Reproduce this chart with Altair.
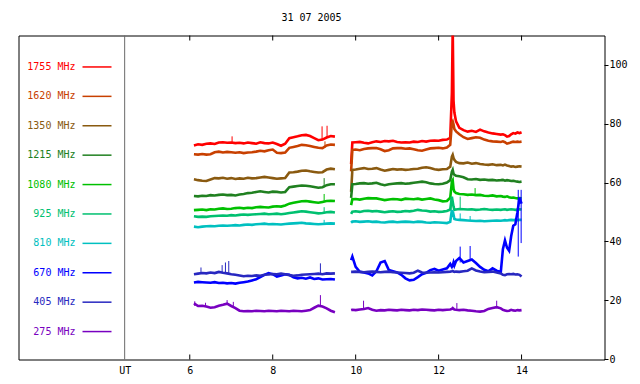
import altair as alt
import pandas as pd

TITLE = "31 07 2005"
MONO = "DejaVu Sans Mono"

freqs = ["1755 MHz", "1620 MHz", "1350 MHz", "1215 MHz", "1080 MHz",
         "925 MHz", "810 MHz", "670 MHz", "405 MHz", "275 MHz"]
colors = ["#ff0000", "#c84000", "#8a5a10", "#208020", "#00c000",
          "#00c070", "#00c0c0", "#0000ff", "#2828c0", "#7800c0"]
widths = [2.6, 2.6, 2.6, 2.6, 2.6, 2.3, 2.0, 2.8, 1.8, 2.3]

# time (UT hours) of the two observing segments
times1 = [6.1, 6.2, 6.3, 6.4, 6.5, 6.6, 6.7, 6.8, 6.9, 7.0,
          7.1, 7.2, 7.3, 7.4, 7.5, 7.6, 7.7, 7.8, 7.9, 8.0,
          8.1, 8.2, 8.3, 8.4, 8.5, 8.6, 8.7, 8.8, 8.9, 9.0,
          9.1, 9.2, 9.3, 9.4, 9.5]
times2 = [9.89, 9.92,
          10.0, 10.1, 10.2, 10.3, 10.4, 10.5, 10.6, 10.7, 10.8, 10.9,
          11.0, 11.1, 11.2, 11.3, 11.4, 11.5, 11.6, 11.7, 11.8, 11.9,
          12.0, 12.1, 12.2,
          12.28, 12.32, 12.34, 12.36, 12.38, 12.42,
          12.5, 12.6, 12.7, 12.8, 12.9, 13.0, 13.1, 13.2, 13.3, 13.4, 13.5,
          13.55, 13.6, 13.65, 13.7, 13.75, 13.8, 13.85, 13.9, 13.95, 14.0]

s1755 = [72.8, 73.2, 73.0, 73.4, 73.5, 73.3, 73.8, 73.9, 73.7, 73.8,
         73.6, 73.7, 73.5, 73.8, 73.6, 73.4, 73.9, 73.6, 73.5, 73.8,
         73.3, 72.7, 73.4, 75.3, 75.6, 75.9, 76.3, 76.4, 76.0, 75.3,
         74.6, 74.8, 75.5, 76.0, 75.8,
         66.5, 73.8,
         73.9, 74.0, 73.7, 73.5, 73.9, 74.2, 74.0, 74.3, 74.2, 74.4,
         74.0, 73.8, 73.9, 73.8, 74.1, 74.0, 74.3, 74.1, 74.4, 74.5,
         74.4, 74.7, 74.8,
         75.4, 90.6, 113.0, 88.0, 84.0, 81.0,
         78.8, 78.0, 77.5, 77.8, 77.4, 78.2, 77.6, 77.2, 76.9, 76.7, 76.5,
         76.6, 76.3, 75.8, 76.0, 76.6, 77.0, 76.8, 77.2, 77.0, 77.3]
s1620 = [69.8, 69.7, 69.9, 69.7, 69.8, 70.5, 70.7, 70.4, 70.6, 70.5,
         70.3, 70.5, 70.2, 70.4, 70.5, 70.7, 71.0, 70.8, 71.2, 71.4,
         70.3, 70.2, 70.4, 72.0, 72.3, 72.6, 73.0, 72.9, 72.6, 72.3,
         72.0, 71.9, 72.8, 73.1, 73.0,
         64.0, 71.3,
         71.4, 71.2, 71.6, 71.8, 71.9, 71.9, 71.5, 70.9, 71.2, 71.8,
         71.9, 71.9, 71.7, 71.8, 71.5, 71.2, 71.0, 71.4, 71.8, 71.9,
         72.0, 71.8, 72.1,
         73.0, 80.5, 81.0, 80.0, 78.4, 77.6,
         76.6, 75.6, 75.0, 75.3, 75.6, 75.4, 74.8, 74.4, 74.2, 74.1, 74.0,
         74.2, 73.9, 73.4, 73.6, 73.9, 74.1, 74.0, 74.1, 74.0, 74.1]
s1350 = [61.3, 61.0, 60.8, 60.7, 61.2, 61.7, 61.6, 61.8, 61.5, 61.7,
         61.4, 61.6, 61.5, 61.8, 61.6, 61.7, 61.9, 62.1, 61.9, 61.7,
         61.5, 61.6, 61.7, 63.6, 63.7, 63.9, 64.2, 64.3, 64.0, 63.8,
         63.6, 63.7, 64.6, 64.9, 64.7,
         57.0, 64.5,
         64.6, 64.9, 65.1, 64.8, 64.9, 65.1, 64.6, 64.2, 64.5, 64.8,
         64.6, 64.7, 64.5, 64.6, 64.8, 64.9, 65.2, 65.4, 65.1, 64.7,
         64.5, 64.7, 64.8,
         65.6, 69.0, 69.6, 68.5, 67.9, 67.2,
         66.8, 66.7, 67.0, 66.6, 66.8, 66.5, 66.3, 66.2, 66.4, 66.1, 66.2,
         66.0, 66.3, 66.0, 65.8, 65.6, 65.7, 65.5, 65.6, 65.7, 65.6]
s1215 = [55.6, 55.5, 55.7, 55.6, 55.9, 55.8, 56.0, 56.1, 55.9, 56.0,
         55.8, 56.1, 56.3, 56.6, 56.7, 57.0, 57.2, 57.0, 56.8, 57.1,
         57.0, 56.8, 57.0, 58.6, 58.8, 59.0, 59.2, 59.1, 58.9, 58.7,
         58.4, 58.6, 59.3, 59.6, 59.6,
         55.0, 59.6,
         59.7, 59.9, 60.0, 59.8, 59.9, 60.1, 59.6, 59.3, 59.6, 59.8,
         59.9, 60.0, 59.8, 59.9, 60.1, 60.3, 60.5, 60.3, 59.9, 59.7,
         59.6, 59.8, 60.2,
         61.0, 63.9, 64.5, 63.2, 62.8, 62.5,
         62.3, 62.0, 61.3, 61.2, 61.4, 61.1, 61.2, 61.0, 61.1, 60.9, 61.0,
         61.1, 60.8, 61.0, 60.9, 60.7, 60.8, 60.6, 60.5, 60.4, 60.5]
s1080 = [50.8, 50.9, 51.0, 50.8, 51.1, 51.0, 51.3, 51.4, 51.2, 51.3,
         51.5, 51.6, 51.4, 51.6, 51.5, 51.8, 51.9, 51.8, 51.7, 52.0,
         52.1, 52.0, 52.4, 53.0, 53.3, 53.6, 53.8, 53.9, 53.7, 53.5,
         53.3, 53.6, 53.9, 54.0, 53.9,
         52.5, 54.5,
         54.6, 54.4, 54.7, 54.9, 54.8, 54.8, 54.5, 54.2, 54.4, 54.6,
         54.5, 54.3, 54.7, 54.6, 54.5, 54.7, 54.4, 54.6, 54.8, 54.4,
         54.2, 53.8, 53.9,
         55.0, 60.5, 61.0, 58.0, 57.1, 56.6,
         56.3, 56.2, 56.0, 56.1, 55.9, 56.0, 55.7, 55.6, 55.8, 55.5, 55.6,
         55.4, 55.3, 55.5, 55.2, 55.0, 55.1, 54.9, 54.8, 54.9, 54.8]
s925 = [48.7, 48.5, 48.6, 48.5, 48.7, 48.8, 48.9, 49.0, 48.9, 49.1,
        49.0, 49.2, 49.3, 49.2, 49.3, 49.4, 49.5, 49.6, 49.4, 49.5,
        49.6, 49.4, 49.6, 49.8, 50.0, 50.2, 50.4, 50.3, 50.1, 49.9,
        49.7, 49.8, 50.1, 50.2, 50.0,
        49.5, 50.3,
        50.4, 50.2, 50.5, 50.6, 50.4, 50.5, 50.3, 50.1, 50.3, 50.4,
        50.2, 50.3, 50.5, 50.4, 50.6, 50.9, 50.7, 50.6, 50.3, 50.4,
        50.2, 50.3, 50.5,
        51.0, 55.4, 53.7, 52.0, 50.9, 51.0,
        51.2, 51.1, 51.0, 51.1, 50.9, 51.0, 51.2, 51.0, 50.9, 51.0, 50.9,
        51.0, 51.1, 50.9, 51.0, 51.1, 51.0, 50.9, 51.0, 51.1, 51.0]
s810 = [45.2, 45.0, 45.2, 45.3, 45.4, 45.3, 45.5, 45.6, 45.5, 45.6,
        45.7, 45.6, 45.8, 45.9, 45.8, 46.0, 46.1, 46.2, 46.0, 46.1,
        46.0, 45.9, 46.1, 46.2, 46.3, 46.4, 46.5, 46.3, 46.2, 46.1,
        46.0, 46.1, 46.2, 46.3, 46.2,
        46.5, 46.9,
        47.0, 46.8, 46.9, 47.0, 46.8, 46.9, 46.7, 46.6, 46.8, 46.9,
        46.7, 46.8, 46.9, 46.8, 46.7, 46.9, 46.8, 46.6, 46.5, 46.7,
        46.6, 46.5, 46.4,
        46.8, 50.9, 48.5, 49.2, 47.8, 47.6,
        47.5, 47.4, 47.3, 47.2, 47.1, 47.2, 47.0, 47.1, 47.2, 47.3, 47.2,
        47.3, 47.4, 47.3, 47.4, 47.5, 47.4, 47.5, 47.4, 47.5, 47.5]
s670 = [26.2, 26.4, 26.3, 26.2, 26.1, 26.3, 26.0, 26.1, 25.9, 26.0,
        25.8, 26.1, 26.3, 26.5, 26.9, 27.3, 28.0, 28.8, 29.4, 29.0,
        28.2, 28.6, 29.0, 28.8, 28.0, 27.6, 27.8, 27.5, 27.9, 27.4,
        27.6, 27.2, 27.3, 27.4, 27.2,
        33.8, 35.0,
        31.5, 29.8, 29.6, 29.3, 28.6, 30.0, 33.0, 33.5, 30.4, 30.0,
        29.6, 28.8, 27.6, 26.9, 27.1, 28.0, 29.0, 29.5, 30.4, 30.8,
        30.2, 30.6, 31.0,
        32.5, 31.5, 32.0, 33.0, 32.0, 33.5,
        34.5, 33.0, 33.5, 34.0, 32.8, 31.5, 30.5, 30.0, 31.0, 30.2, 29.8,
        37.5, 40.5, 38.0, 37.0, 42.0, 45.5, 46.0, 50.0, 55.0, 53.0]
s405 = [29.0, 29.2, 29.4, 29.3, 29.6, 29.4, 29.8, 29.5, 29.3, 29.0,
        28.8, 28.6, 28.3, 28.5, 28.4, 28.6, 28.5, 28.8, 28.9, 29.1,
        29.0, 29.2, 29.0, 28.7, 28.5, 28.6, 28.8, 28.9, 29.0, 29.1,
        29.2, 29.0, 29.3, 29.2, 29.3,
        29.8, 29.8,
        29.9, 29.8, 29.7, 29.8, 29.9, 29.8, 29.7, 29.8, 29.9, 29.7,
        29.6, 29.5, 29.4, 29.3, 29.5, 30.2, 29.6, 29.5, 29.6, 29.7,
        29.6, 29.7, 29.8,
        29.9, 30.0, 30.1, 29.9, 29.8, 29.9,
        29.8, 30.0, 30.2, 31.0, 30.3, 29.9, 29.7, 29.8, 29.9, 29.6, 29.3,
        28.8, 28.7, 29.0, 29.1, 29.0, 29.1, 28.9, 29.0, 28.8, 28.2]
s275 = [19.1, 18.2, 18.3, 18.0, 17.6, 17.8, 18.3, 18.6, 19.0, 18.2,
        17.5, 16.6, 16.4, 16.5, 16.4, 16.6, 16.5, 16.4, 16.6, 16.5,
        16.4, 16.6, 16.5, 16.4, 16.6, 16.5, 16.4, 16.6, 16.8, 17.6,
        18.3, 18.0, 17.4, 16.6, 16.1,
        16.8, 16.9,
        16.8, 17.0, 17.2, 17.5, 16.9, 16.6, 16.8, 16.7, 16.9, 16.8,
        16.7, 16.9, 16.8, 16.7, 16.9, 16.8, 17.0, 16.9, 16.8, 16.7,
        16.9, 16.8, 16.9,
        17.0, 17.2, 17.5, 17.2, 17.0, 16.9,
        16.8, 16.9, 16.7, 16.6, 16.4, 16.3, 16.5, 17.2, 17.5, 17.8, 17.4,
        16.9, 16.7, 16.5, 16.6, 16.9, 16.7, 16.6, 16.8, 16.7, 16.8]

series_values = [s1755, s1620, s1350, s1215, s1080, s925, s810, s670, s405, s275]

# short spikes (series, time, from, to)
spike_freq = ["1755 MHz", "1755 MHz", "1755 MHz", "1620 MHz", "1215 MHz",
              "1080 MHz", "1080 MHz", "925 MHz", "925 MHz", "925 MHz",
              "810 MHz", "810 MHz", "810 MHz", "670 MHz", "670 MHz",
              "670 MHz", "670 MHz", "405 MHz", "405 MHz", "405 MHz",
              "405 MHz", "405 MHz", "275 MHz", "275 MHz", "275 MHz",
              "275 MHz", "275 MHz", "275 MHz", "275 MHz", "275 MHz"]
spike_t = [7.02, 9.19, 9.31, 9.26, 9.24,
           9.24, 12.88, 9.24, 12.30, 12.52,
           9.24, 12.52, 12.76, 12.52, 12.76,
           13.92, 13.99, 6.27, 6.78, 6.86,
           6.94, 9.15, 6.12, 6.38, 6.9,
           7.05, 9.15, 10.19, 12.44, 13.4]
spike_lo = [73.7, 74.8, 75.5, 72.0, 58.6,
            53.6, 56.0, 49.8, 50.9, 51.1,
            46.1, 47.4, 47.2, 33.0, 33.5,
            35.0, 39.6, 29.4, 29.5, 29.5,
            29.3, 29.2, 18.2, 18.0, 18.6,
            18.2, 18.3, 17.0, 16.9, 17.8]
spike_hi = [75.9, 79.3, 79.5, 74.2, 61.7,
            56.3, 58.3, 51.8, 55.4, 55.4,
            47.5, 49.7, 48.8, 38.4, 38.6,
            57.7, 57.7, 31.3, 32.1, 33.0,
            33.5, 32.7, 19.8, 19.3, 20.2,
            19.6, 21.9, 20.0, 19.2, 20.0]

x_ticks = [6, 8, 10, 12, 14]
y_ticks = [0, 20, 40, 60, 80, 100]
UT_POS = 4.43
X_DOMAIN = [1.87, 16.0]
Y_DOMAIN = [0, 110.2]

# ---- build tables ----
all_t = times1 + times2
rows = []
for name, vals in zip(freqs, series_values):
    assert len(vals) == len(all_t), (name, len(vals))
    for i, (t, v) in enumerate(zip(all_t, vals)):
        rows.append({"freq": name, "t": t, "v": v, "seg": 0 if i < len(times1) else 1})
df = pd.DataFrame(rows)

spk = pd.DataFrame({"freq": spike_freq, "t": spike_t, "lo": spike_lo, "hi": spike_hi})
leg = pd.DataFrame({"freq": freqs, "ly": [99.5 - 10 * i for i in range(len(freqs))]})
xt = pd.DataFrame({"t": x_ticks})
ut = pd.DataFrame({"t": [UT_POS]})

W, H = 586, 324
xs = alt.Scale(domain=X_DOMAIN, nice=False, zero=False)
ys = alt.Scale(domain=Y_DOMAIN, nice=False, zero=False)
cs = alt.Scale(domain=freqs, range=colors)

x_axis = alt.Axis(values=[UT_POS] + x_ticks,
                  labelExpr="datum.value < 5 ? 'UT' : format(datum.value, 'd')",
                  ticks=False, domain=False, grid=False, title=None,
                  labelFont=MONO, labelFontSize=10, labelColor="black",
                  labelPadding=6, labelOverlap=False, labelFlush=False)
y_axis = alt.Axis(orient="right", values=y_ticks, tickSize=4, tickColor="black",
                  tickWidth=1, domain=False, grid=False, title=None, translate=0,
                  labelFont=MONO, labelFontSize=10, labelColor="black",
                  labelPadding=1, labelOverlap=False, labelFlush=False)

lines = alt.Chart(df).mark_line(clip=True).encode(
    x=alt.X("t:Q", scale=xs, axis=x_axis),
    y=alt.Y("v:Q", scale=ys, axis=y_axis),
    color=alt.Color("freq:N", scale=cs, legend=None),
    strokeWidth=alt.StrokeWidth("freq:N", scale=alt.Scale(domain=freqs, range=widths),
                                legend=None),
    detail="seg:N",
)

spikes = alt.Chart(spk).mark_rule(strokeWidth=1, clip=True).encode(
    x="t:Q", y="lo:Q", y2="hi:Q",
    color=alt.Color("freq:N", scale=cs, legend=None),
)

ut_line = alt.Chart(ut).mark_rule(color="#6a6a6a", strokeWidth=1).encode(
    x="t:Q", y=alt.value(0), y2=alt.value(H))

tick_bottom = alt.Chart(xt).mark_rule(color="black", strokeWidth=1).encode(
    x="t:Q", y=alt.value(H), y2=alt.value(H - 5))
tick_top = alt.Chart(xt).mark_rule(color="black", strokeWidth=1).encode(
    x="t:Q", y=alt.value(0), y2=alt.value(5))

leg_text = alt.Chart(leg).mark_text(align="right", baseline="middle",
                                    font=MONO, fontSize=10).encode(
    x=alt.value(57), y="ly:Q", text="freq:N",
    color=alt.Color("freq:N", scale=cs, legend=None))
leg_line = alt.Chart(leg).mark_rule(strokeWidth=1.5).encode(
    x=alt.value(64), x2=alt.value(93), y="ly:Q",
    color=alt.Color("freq:N", scale=cs, legend=None))

chart = alt.layer(ut_line, lines, spikes, tick_bottom, tick_top, leg_line, leg_text).properties(
    width=W, height=H,
    background="white",
    title=alt.TitleParams(TITLE, font=MONO, fontSize=10, fontWeight="normal",
                          color="black", anchor="middle", offset=12),
    autosize=alt.AutoSizeParams(type="none"),
    padding={"left": 10.5, "top": 27.5, "right": 27.5, "bottom": 16.5},
).configure_view(stroke="black", strokeWidth=1, strokeOpacity=1)

chart.save("out.html", embed_options={"renderer": "svg", "actions": False})
